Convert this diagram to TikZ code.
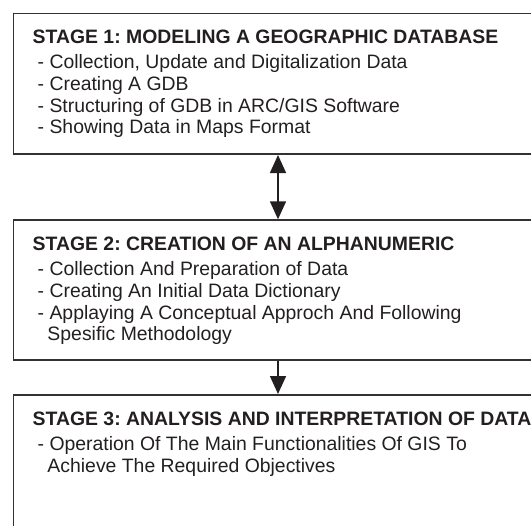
\documentclass[tikz,border=0pt]{standalone}
\usepackage{fontspec}
\setmainfont{Liberation Sans}
\usetikzlibrary{arrows.meta,positioning}
\frenchspacing

\definecolor{boxgray}{HTML}{333131}
\definecolor{inkblack}{HTML}{231F20}

\tikzset{
  stagebox/.style={draw=boxgray, line width=1.7bp, anchor=north west, inner sep=0pt, minimum width=560bp},
  stagetitle/.style={anchor=base west, inner sep=0pt, text=inkblack, font=\fontsize{19.4bp}{22bp}\selectfont\bfseries},
  stageitem/.style={anchor=base west, inner sep=0pt, text=inkblack, font=\fontsize{19.4bp}{22bp}\selectfont},
  flow/.style={line width=1.5bp, draw=inkblack, -{Triangle[width=16bp,length=18bp]}},
  twoway/.style={flow, {Triangle[width=16bp,length=18bp]}-{Triangle[width=16bp,length=18bp]}}
}

\begin{document}
\begin{tikzpicture}[x=1bp, y=-1bp]
\useasboundingbox (0,0) rectangle (531,526);
\clip (0,0) rectangle (531,526);

% the three stages
\node[stagebox, minimum height=140.6bp] (stage1) at (12.7,12.7) {};
\node[stagebox, minimum height=140bp] (stage2) at (12.7,219.3) {};
\node[stagebox, minimum height=200bp] (stage3) at (12.7,394) {};

% stage 1
\node[stagetitle] (title1) at (32.5,44) {STAGE 1: MODELING A GEOGRAPHIC DATABASE};
\foreach \n/\x/\y/\txt in
{1/37.5/69/{- Collection, Update and Digitalization Data},
 2/37.5/90.7/{- Creating A GDB},
 3/37.5/112.3/{- Structuring of GDB in ARC/GIS Software},
 4/37.5/134/{- Showing Data in Maps Format}}
\node[stageitem] (item1-\n) at (\x,\y) {\txt};

% stage 2
\node[stagetitle] (title2) at (32.5,250.6) {STAGE 2: CREATION OF AN ALPHANUMERIC};
\foreach \n/\x/\y/\txt in
{1/37.5/275.6/{- Collection And Preparation of Data},
 2/37.5/297.3/{- Creating An Initial Data Dictionary},
 3/37.5/319/{- Applaying A Conceptual Approch And Following},
 4/47.3/340.7/{Spesific Methodology}}
\node[stageitem] (item2-\n) at (\x,\y) {\txt};

% stage 3
\node[stagetitle] (title3) at (32.5,425.3) {STAGE 3: ANALYSIS AND INTERPRETATION OF DATA};
\foreach \n/\x/\y/\txt in
{1/37.5/450.3/{- Operation Of The Main Functionalities Of GIS To},
 2/47.3/472/{Achieve The Required Objectives}}
\node[stageitem] (item3-\n) at (\x,\y) {\txt};

% connectors
\coordinate (axis) at (278,0);
\draw[twoway] (stage1.south -| axis) -- (stage2.north -| axis);
\draw[flow] (stage2.south -| axis) -- (stage3.north -| axis);
\end{tikzpicture}
\end{document}
